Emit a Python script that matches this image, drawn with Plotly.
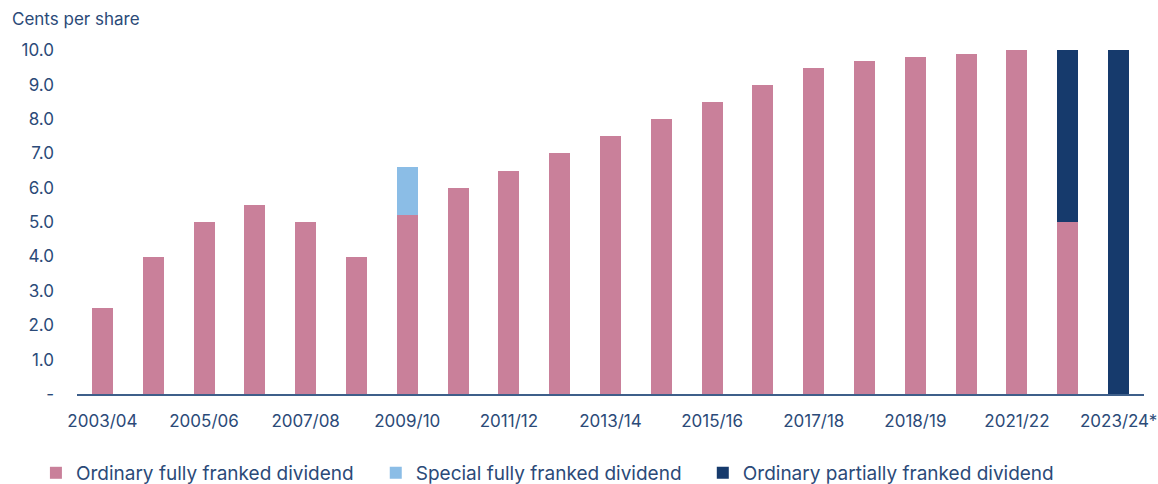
import plotly.graph_objects as go

years = ["2003/04", "2004/05", "2005/06", "2006/07", "2007/08", "2008/09", "2009/10",
         "2010/11", "2011/12", "2012/13", "2013/14", "2014/15", "2015/16", "2016/17",
         "2017/18", "2018/19a", "2018/19", "2020/21", "2021/22", "2022/23", "2023/24*"]
ordinary_full = [2.5, 4.0, 5.0, 5.5, 5.0, 4.0, 5.2, 6.0, 6.5, 7.0, 7.5, 8.0, 8.5, 9.0,
                 9.5, 9.7, 9.8, 9.9, 10.0, 5.0, 0.0]
special_full = [0, 0, 0, 0, 0, 0, 1.4, 0, 0, 0, 0, 0, 0, 0, 0, 0, 0, 0, 0, 0, 0]
ordinary_partial = [0, 0, 0, 0, 0, 0, 0, 0, 0, 0, 0, 0, 0, 0, 0, 0, 0, 0, 0, 5.0, 10.0]
tick_years = ["2003/04", "2005/06", "2007/08", "2009/10", "2011/12", "2013/14",
              "2015/16", "2017/18", "2018/19", "2021/22", "2023/24*"]
y_ticks = [0, 1, 2, 3, 4, 5, 6, 7, 8, 9, 10]
y_tick_text = ["-", "1.0", "2.0", "3.0", "4.0", "5.0", "6.0", "7.0", "8.0", "9.0", "10.0"]

TEXT = "#2B4A78"
FONT = "Inter"

fig = go.Figure()
fig.add_bar(x=years, y=ordinary_full, name="Ordinary fully franked dividend",
            marker=dict(color="#C9809A", line=dict(width=0)), legend="legend")
fig.add_bar(x=years, y=special_full, name="Special fully franked dividend",
            marker=dict(color="#8BBDE6", line=dict(width=0)), legend="legend2")
fig.add_bar(x=years, y=ordinary_partial, name="Ordinary partially franked dividend",
            marker=dict(color="#163A6C", line=dict(width=0)), legend="legend3")

tick_positions = [years[i] for i in range(0, len(years), 2)]

def leg(x):
    return dict(orientation="h", x=x, xanchor="left", y=-0.223, yanchor="middle",
                font=dict(size=19, color=TEXT, family=FONT), itemwidth=30,
                bgcolor="rgba(0,0,0,0)")

fig.update_layout(
    width=1158, height=484,
    barmode="stack", bargap=0.587,
    plot_bgcolor="white", paper_bgcolor="white",
    margin=dict(l=77, r=14, t=40, b=90, autoexpand=False),
    font=dict(family=FONT, color=TEXT, size=17),
    xaxis=dict(
        type="category", range=[-0.5, 20.5], automargin=False,
        tickvals=tick_positions, ticktext=tick_years,
        showline=True, linecolor="#3E5F8A", linewidth=1.5,
        showgrid=False, ticks="", ticklabelstandoff=11,
        tickfont=dict(size=17, color=TEXT, family=FONT),
    ),
    yaxis=dict(
        range=[0, 10.3], tickvals=y_ticks, ticktext=y_tick_text, automargin=False,
        showgrid=False, zeroline=False, showline=False, ticks="",
        ticklabelstandoff=22,
        tickfont=dict(size=17, color=TEXT, family=FONT),
    ),
    legend=leg(-0.0385),
    legend2=leg(0.280),
    legend3=leg(0.5865),
    showlegend=True,
    annotations=[dict(
        text="Cents per share", xref="paper", yref="paper",
        x=-0.0628, y=1.059, xanchor="left", yanchor="middle", showarrow=False,
        font=dict(size=17, color=TEXT, family=FONT),
    )],
)

fig.write_html(
    "out.html",
    config={"displayModeBar": False},
    post_script="document.body.style.margin='0';document.body.style.overflow='hidden';",
)
